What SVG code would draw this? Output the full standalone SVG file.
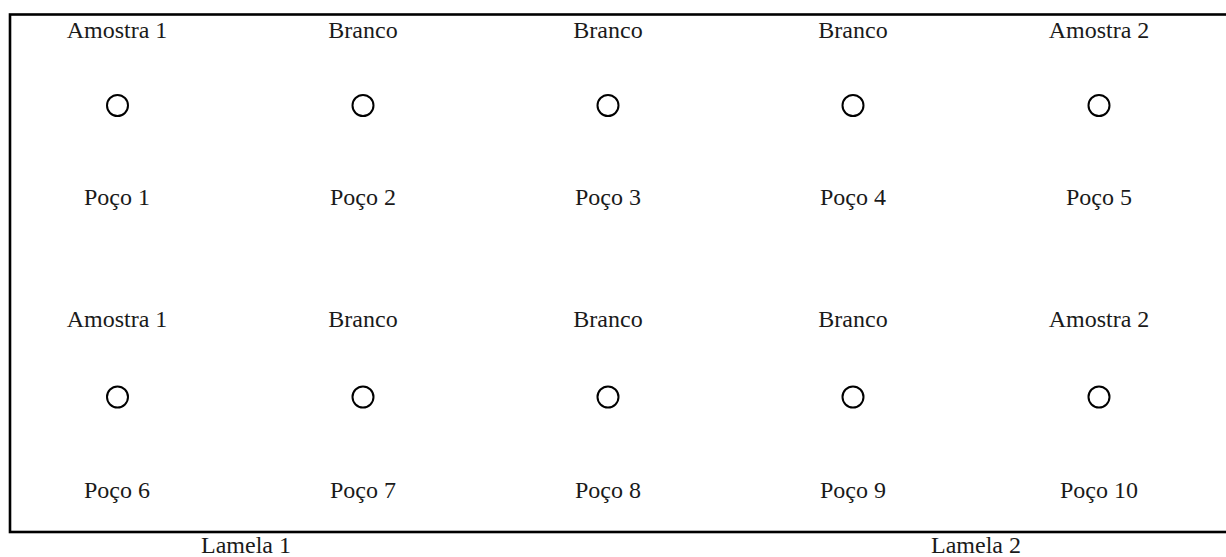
<svg xmlns="http://www.w3.org/2000/svg" width="1226" height="557" viewBox="0 0 1226 557">
<style>
text{font-family:"Liberation Serif","Times New Roman",serif;font-size:24px;fill:#1a1a1a;text-anchor:middle}
.well{fill:none;stroke:#000;stroke-width:2}
.frame{fill:none;stroke:#000;stroke-width:2.6}
</style>
<rect width="1226" height="557" fill="#fff"/>
<g id="frame"><rect class="frame" x="10" y="14.5" width="1240" height="517.5"/></g>
<g id="connectors"></g>
<g id="n1"><text x="117" y="38">Amostra 1</text><circle class="well" cx="117.5" cy="105.5" r="10.5"/><text x="117" y="205">Poço 1</text></g>
<g id="n2"><text x="363" y="38">Branco</text><circle class="well" cx="363" cy="105.5" r="10.5"/><text x="363" y="205">Poço 2</text></g>
<g id="n3"><text x="608" y="38">Branco</text><circle class="well" cx="608" cy="105.5" r="10.5"/><text x="608" y="205">Poço 3</text></g>
<g id="n4"><text x="853" y="38">Branco</text><circle class="well" cx="853" cy="105.5" r="10.5"/><text x="853" y="205">Poço 4</text></g>
<g id="n5"><text x="1099" y="38">Amostra 2</text><circle class="well" cx="1099" cy="105.5" r="10.5"/><text x="1099" y="205">Poço 5</text></g>
<g id="n6"><text x="117" y="327">Amostra 1</text><circle class="well" cx="117.5" cy="397" r="10.5"/><text x="117" y="498">Poço 6</text></g>
<g id="n7"><text x="363" y="327">Branco</text><circle class="well" cx="363" cy="397" r="10.5"/><text x="363" y="498">Poço 7</text></g>
<g id="n8"><text x="608" y="327">Branco</text><circle class="well" cx="608" cy="397" r="10.5"/><text x="608" y="498">Poço 8</text></g>
<g id="n9"><text x="853" y="327">Branco</text><circle class="well" cx="853" cy="397" r="10.5"/><text x="853" y="498">Poço 9</text></g>
<g id="n10"><text x="1099" y="327">Amostra 2</text><circle class="well" cx="1099" cy="397" r="10.5"/><text x="1099" y="498">Poço 10</text></g>
<g id="lamela1"><text x="246" y="553">Lamela 1</text></g>
<g id="lamela2"><text x="976" y="553">Lamela 2</text></g>
</svg>
